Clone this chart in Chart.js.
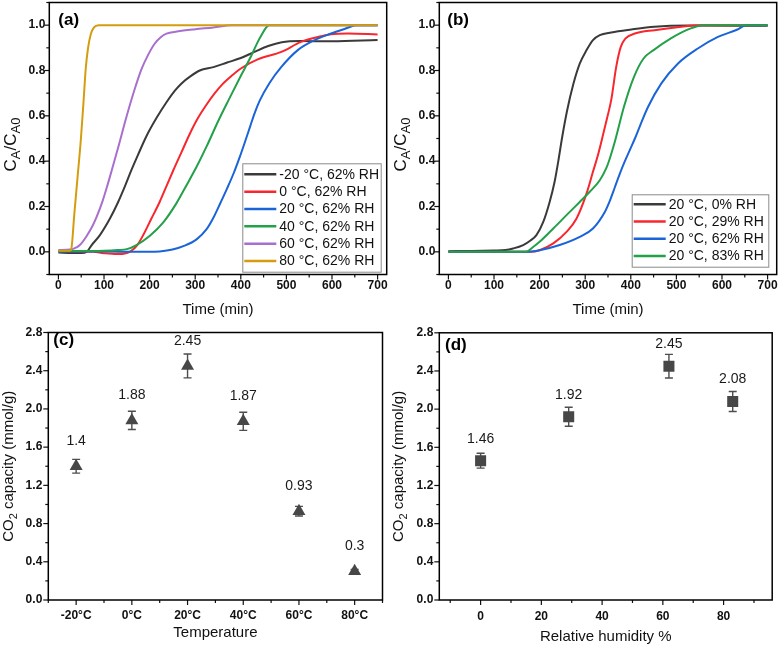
<!DOCTYPE html>
<html>
<head>
<meta charset="utf-8">
<title>CO2 breakthrough curves and capacity</title>
<script src="https://cdn.jsdelivr.net/npm/chart.js@4.4.1/dist/chart.umd.min.js"></script>
<style>
html,body{margin:0;padding:0;background:#fff;}
#fig{position:relative;width:780px;height:649px;overflow:hidden;background:#fff;}
#fig canvas{position:absolute;}
</style>
</head>
<body>
<div id="fig">
<canvas id="pa" width="390" height="325" style="left:0;top:0"></canvas>
<canvas id="pb" width="390" height="325" style="left:390px;top:0"></canvas>
<canvas id="pc" width="390" height="324" style="left:0;top:325px"></canvas>
<canvas id="pd" width="390" height="324" style="left:390px;top:325px"></canvas>
</div>
<script>
// ---------------- tick labels ----------------
const timeTicks  = [0, 100, 200, 300, 400, 500, 600, 700];
const ratioTicks = [0.0, 0.2, 0.4, 0.6, 0.8, 1.0];
const capTicks   = [0.0, 0.4, 0.8, 1.2, 1.6, 2.0, 2.4, 2.8];
const rhTicks    = [0, 20, 40, 60, 80];

// ---------------- panel (a): temperature series (62% RH) ----------------
const legendA = ['-20 °C, 62% RH', '0 °C, 62% RH', '20 °C, 62% RH', '40 °C, 62% RH', '60 °C, 62% RH', '80 °C, 62% RH'];
const colorsA = ['#3a3a3a', '#f7272d', '#1b64d8', '#23a048', '#a86fcf', '#d39d0e'];

const tM20 = [0, 30, 50, 62, 73, 91, 113, 131, 146, 160, 175, 193, 215, 237, 255, 270, 290, 310, 340, 370, 400, 430, 460, 490, 530, 600, 700];
const vM20 = [-0.003, -0.005, -0.005, 0.0, 0.03, 0.074, 0.147, 0.22, 0.29, 0.36, 0.43, 0.51, 0.59, 0.66, 0.71, 0.743, 0.775, 0.80, 0.815, 0.835, 0.855, 0.882, 0.908, 0.925, 0.93, 0.929, 0.935];

const tP0 = [0, 50, 77, 100, 128, 150, 160, 173, 186, 204, 222, 237, 252, 270, 288, 306, 325, 343, 360, 379, 401, 437, 489, 532, 576, 598, 635, 700];
const vP0 = [0.003, 0.002, 0.0, -0.006, -0.01, -0.005, 0.005, 0.03, 0.074, 0.147, 0.22, 0.29, 0.36, 0.44, 0.52, 0.59, 0.65, 0.70, 0.74, 0.775, 0.81, 0.849, 0.882, 0.926, 0.951, 0.96, 0.963, 0.959];

const tP20 = [0, 100, 200, 222, 250, 274, 303, 325, 339, 354, 370, 385, 398, 410, 420, 430, 441, 463, 489, 525, 562, 598, 630, 653, 700];
const vP20 = [0.002, 0.001, 0.0, 0.002, 0.01, 0.025, 0.055, 0.1, 0.147, 0.21, 0.28, 0.35, 0.42, 0.49, 0.55, 0.61, 0.665, 0.745, 0.816, 0.89, 0.934, 0.963, 0.985, 1.0, 1.0];

const tP40 = [0, 100, 130, 150, 171, 200, 230, 259, 281, 303, 325, 350, 372, 401, 423, 437, 448, 455, 462, 700];
const vP40 = [0.003, 0.005, 0.008, 0.012, 0.03, 0.07, 0.13, 0.215, 0.294, 0.375, 0.465, 0.575, 0.665, 0.78, 0.865, 0.925, 0.965, 0.988, 1.0, 1.0];

const tP60 = [0, 25, 35, 47, 62, 75, 84, 97, 107, 117, 133, 145, 157, 170, 182, 197, 211, 225, 237, 260, 300, 340, 380, 700];
const vP60 = [0.008, 0.01, 0.015, 0.03, 0.07, 0.115, 0.155, 0.225, 0.29, 0.36, 0.475, 0.565, 0.65, 0.735, 0.805, 0.87, 0.918, 0.948, 0.963, 0.972, 0.982, 0.99, 1.0, 1.0];

const tP80 = [0, 25, 28, 35, 42, 49, 55, 60, 65, 71, 78, 88, 700];
const vP80 = [0.005, 0.005, 0.01, 0.17, 0.33, 0.49, 0.66, 0.81, 0.9, 0.96, 0.99, 1.0, 1.0];

// ---------------- panel (b): humidity series (20 °C) ----------------
const legendB = ['20 °C, 0% RH', '20 °C, 29% RH', '20 °C, 62% RH', '20 °C, 83% RH'];
const colorsB = ['#3a3a3a', '#f7272d', '#1b64d8', '#23a048'];

const tH0 = [0, 50, 100, 125, 142, 164, 180, 193, 208, 222, 233, 241, 249, 260, 274, 288, 303, 317, 332, 357, 401, 452, 525, 700];
const vH0 = [0.003, 0.004, 0.006, 0.008, 0.015, 0.03, 0.05, 0.074, 0.132, 0.22, 0.31, 0.40, 0.50, 0.62, 0.74, 0.83, 0.89, 0.934, 0.956, 0.968, 0.981, 0.993, 0.998, 0.997];

const tH29 = [0, 100, 180, 200, 230, 259, 281, 303, 317, 328, 339, 348, 357, 368, 378, 388, 409, 452, 511, 550, 700];
const vH29 = [0.0, 0.0, 0.0, 0.007, 0.037, 0.088, 0.147, 0.258, 0.353, 0.427, 0.515, 0.59, 0.669, 0.816, 0.904, 0.941, 0.963, 0.978, 0.993, 1.0, 1.0];

const tH62 = [0, 100, 170, 200, 244, 288, 317, 343, 354, 365, 376, 387, 398, 409, 420, 438, 467, 503, 547, 591, 634, 653, 700];
const vH62 = [0.0, 0.0, 0.0, 0.007, 0.03, 0.066, 0.103, 0.176, 0.225, 0.285, 0.345, 0.40, 0.45, 0.50, 0.555, 0.64, 0.743, 0.83, 0.897, 0.948, 0.981, 1.0, 1.0];

const tH83 = [0, 100, 170, 185, 200, 230, 259, 288, 310, 332, 346, 354, 366, 385, 407, 428, 450, 487, 530, 560, 700];
const vH83 = [0.0, 0.0, 0.0, 0.02, 0.044, 0.103, 0.162, 0.22, 0.265, 0.316, 0.368, 0.412, 0.493, 0.64, 0.772, 0.853, 0.89, 0.941, 0.985, 1.0, 1.0];

// ---------------- panel (c): capacity vs temperature ----------------
const tempLabels = ['-20°C', '0°C', '20°C', '40°C', '60°C', '80°C'];
const capT = [1.4, 1.88, 2.45, 1.87, 0.93, 0.3];
const errT = [0.072, 0.095, 0.125, 0.095, 0.05, 0.02];

// ---------------- panel (d): capacity vs relative humidity ----------------
const rhVals = [0, 29, 62, 83];
const capH = [1.46, 1.92, 2.45, 2.08];
const errH = [0.078, 0.10, 0.124, 0.105];

// ================= helpers =================
const FONT = "'Liberation Sans', Arial, sans-serif";
Chart.defaults.font.family = FONT;
const pts = (t, v) => t.map((x, i) => ({x: x, y: v[i]}));

function fixedY(w) { return s => { s.width = w; s.paddingTop = 0; s.paddingBottom = 0; }; }
function fixedX(h) { return s => { s.height = h; s.paddingLeft = 0; s.paddingRight = 0; }; }
function setTicks(arr) { return s => { s.ticks = arr.map(v => ({value: v})); }; }

const tickFont = {family: FONT, size: 12, weight: 'bold'};

const panelCfg = {};

const panelPlugin = {
  id: 'panelDeco',
  beforeDatasetsDraw(chart) {
    const o = panelCfg[chart.canvas.id];
    if (!o || !o.errors) return;
    const ctx = chart.ctx, ys = chart.scales.y, meta = chart.getDatasetMeta(0);
    const data = chart.data.datasets[0].data;
    ctx.save();
    ctx.strokeStyle = '#4d4d4d'; ctx.lineWidth = 1.4;
    data.forEach((d, i) => {
      const val = (typeof d === 'object') ? d.y : d;
      const x = meta.data[i].x;
      const y1 = ys.getPixelForValue(val + o.errors[i]);
      const y2 = ys.getPixelForValue(val - o.errors[i]);
      ctx.beginPath();
      ctx.moveTo(x, y1); ctx.lineTo(x, y2);
      ctx.moveTo(x - 4, y1); ctx.lineTo(x + 4, y1);
      ctx.moveTo(x - 4, y2); ctx.lineTo(x + 4, y2);
      ctx.stroke();
    });
    ctx.restore();
  },
  afterDraw(chart) {
    const o = panelCfg[chart.canvas.id];
    if (!o) return;
    const ctx = chart.ctx, a = chart.chartArea, xs = chart.scales.x, ys = chart.scales.y;
    ctx.save();
    // ---- tick marks (major + minor, outward) ----
    ctx.strokeStyle = '#111'; ctx.lineWidth = 1.2;
    const marks = (scale, majors, horiz) => {
      const step = majors[1] - majors[0];
      const minors = [majors[0] - step / 2];
      majors.forEach(v => minors.push(v + step / 2));
      const draw = (v, len) => {
        const p = scale.getPixelForValue(v);
        if (horiz) {
          if (p < a.left - 0.6 || p > a.right + 0.6) return;
          ctx.beginPath(); ctx.moveTo(p, a.bottom); ctx.lineTo(p, a.bottom + len); ctx.stroke();
        } else {
          if (p < a.top - 0.6 || p > a.bottom + 0.6) return;
          ctx.beginPath(); ctx.moveTo(a.left, p); ctx.lineTo(a.left - len, p); ctx.stroke();
        }
      };
      majors.forEach(v => draw(v, 5));
      minors.forEach(v => draw(v, 3));
    };
    marks(xs, o.xMajor, true);
    marks(ys, o.yMajor, false);
    // ---- frame ----
    ctx.strokeStyle = '#000'; ctx.lineWidth = 1.5;
    ctx.strokeRect(a.left, a.top, a.right - a.left, a.bottom - a.top);

    // ---- data labels ----
    if (o.dataLabels) {
      const meta = chart.getDatasetMeta(0);
      const data = chart.data.datasets[0].data;
      ctx.fillStyle = '#1a1a1a';
      ctx.font = '14px ' + FONT;
      ctx.textAlign = 'center'; ctx.textBaseline = 'middle';
      data.forEach((d, i) => {
        const val = (typeof d === 'object') ? d.y : d;
        ctx.fillText(String(val), meta.data[i].x, meta.data[i].y - o.dataLabels.dy);
      });
    }
    // ---- legend box ----
    if (o.legend) {
      const L = o.legend;
      const bx = a.right - L.right - L.w, by = a.bottom - L.bottom - L.h;
      ctx.fillStyle = '#fff';
      ctx.fillRect(bx, by, L.w, L.h);
      ctx.strokeStyle = '#8a8a8a'; ctx.lineWidth = 1;
      ctx.strokeRect(bx + 0.5, by + 0.5, L.w, L.h);
      ctx.font = '14px ' + FONT;
      ctx.textAlign = 'left'; ctx.textBaseline = 'middle';
      chart.data.datasets.forEach((ds, i) => {
        const yy = by + L.first + i * L.row;
        ctx.strokeStyle = ds.borderColor; ctx.lineWidth = 2.5;
        ctx.beginPath(); ctx.moveTo(bx + 2, yy); ctx.lineTo(bx + 34, yy); ctx.stroke();
        ctx.fillStyle = '#111';
        ctx.fillText(ds.label, bx + 37, yy + 0.5);
      });
    }
    // ---- x axis title ----
    ctx.fillStyle = '#111';
    ctx.font = '15px ' + FONT;
    ctx.textAlign = 'center'; ctx.textBaseline = 'middle';
    ctx.fillText(o.xTitle, (a.left + a.right) / 2, a.bottom + o.xTitleDy);
    // ---- y axis title with subscripts ----
    const big = o.yTitleSize[0] + 'px ' + FONT, small = o.yTitleSize[1] + 'px ' + FONT;
    let total = 0;
    o.yTitle.forEach(p => { ctx.font = p[1] ? small : big; total += ctx.measureText(p[0]).width; });
    ctx.translate(o.yTitleX, (a.top + a.bottom) / 2 + o.yTitleDy);
    ctx.rotate(-Math.PI / 2);
    ctx.textAlign = 'left'; ctx.textBaseline = 'alphabetic';
    let cx = -total / 2;
    o.yTitle.forEach(p => {
      ctx.font = p[1] ? small : big;
      ctx.fillText(p[0], cx, p[1] ? o.yTitleSize[2] : 0);
      cx += ctx.measureText(p[0]).width;
    });
    ctx.setTransform(1, 0, 0, 1, 0, 0);
    // ---- panel letter ----
    ctx.font = 'bold 17px ' + FONT;
    ctx.textAlign = 'left'; ctx.textBaseline = 'middle';
    ctx.fillStyle = '#000';
    ctx.fillText(o.letter[0], a.left + o.letter[1], a.top + o.letter[2]);
    ctx.restore();
  }
};
Chart.register(panelPlugin);

function baseOptions(p) {
  return {
    responsive: false, animation: false, devicePixelRatio: 1, events: [],
    layout: {padding: {left: 0, top: p.padTop, right: p.padRight, bottom: 0}},
    plugins: {legend: {display: false}, tooltip: {enabled: false}},
    scales: {
      x: Object.assign({
        grid: {display: false, drawTicks: false}, border: {display: false},
        afterFit: fixedX(p.xH)
      }, p.x),
      y: {
        type: 'linear', min: p.yMin, max: p.yMax,
        grid: {display: false, drawTicks: false}, border: {display: false},
        ticks: {font: tickFont, color: '#111', padding: p.yPad, autoSkip: false,
                callback: v => Number(v).toFixed(1)},
        afterBuildTicks: setTicks(p.yTicks),
        afterFit: fixedY(p.yW)
      }
    }
  };
}

function lineSets(series, labels, colors) {
  const n = series.length;
  return series.map((s, i) => ({
    label: labels[i], data: pts(s[0], s[1]), borderColor: colors[i], backgroundColor: colors[i],
    borderWidth: 2, pointRadius: 0, fill: false, cubicInterpolationMode: 'monotone', order: n - 1 - i
  }));
}

const CA_TITLE = [['C', 0], ['A', 1], ['/C', 0], ['A0', 1]];
const CO2_TITLE = [['CO', 0], ['2', 1], [' capacity (mmol/g)', 0]];

panelCfg.pa = {xMajor: timeTicks, yMajor: ratioTicks, xTitle: 'Time (min)', xTitleDy: 35.5,
  yTitle: CA_TITLE, yTitleSize: [17, 13, 4], yTitleX: 16, yTitleDy: 6, letter: ['(a)', 9, 17.5],
  legend: {right: 6, bottom: 2.8, w: 138.4, h: 108.4, first: 11, row: 17.35}};
panelCfg.pb = {xMajor: timeTicks, yMajor: ratioTicks, xTitle: 'Time (min)', xTitleDy: 35.5,
  yTitle: CA_TITLE, yTitleSize: [17, 13, 4], yTitleX: 16, yTitleDy: 6, letter: ['(b)', 8, 17.5],
  legend: {right: 8.4, bottom: 7.8, w: 136.6, h: 72.4, first: 10, row: 17.2}};
panelCfg.pc = {xMajor: [0, 1, 2, 3, 4, 5], yMajor: capTicks, xTitle: 'Temperature', xTitleDy: 33,
  yTitle: CO2_TITLE, yTitleSize: [15, 11, 4], yTitleX: 12.5, yTitleDy: 0, letter: ['(c)', 5, 7.7],
  errors: errT, dataLabels: {dy: 25}};
panelCfg.pd = {xMajor: rhTicks, yMajor: capTicks, xTitle: 'Relative humidity %', xTitleDy: 36.5,
  yTitle: CO2_TITLE, yTitleSize: [15, 11, 4], yTitleX: 12.5, yTitleDy: 0, letter: ['(d)', 5.7, 12.7],
  errors: errH, dataLabels: {dy: 22}};

const timeX = {type: 'linear', min: -20, max: 720, afterBuildTicks: setTicks(timeTicks),
  ticks: {font: tickFont, color: '#111', padding: 4, autoSkip: false, maxRotation: 0, callback: v => String(v)}};

// ---------------- (a) ----------------
new Chart(document.getElementById('pa'), {
  type: 'line',
  data: {datasets: lineSets([[tM20, vM20], [tP0, vP0], [tP20, vP20], [tP40, vP40], [tP60, vP60], [tP80, vP80]], legendA, colorsA)},
  options: baseOptions({padTop: 2.5, padRight: 3.3, xH: 50.5, yW: 49.3, yPad: 4,
    yMin: -0.1, yMax: 1.1, yTicks: ratioTicks, x: timeX})
});

// ---------------- (b) ----------------
new Chart(document.getElementById('pb'), {
  type: 'line',
  data: {datasets: lineSets([[tH0, vH0], [tH29, vH29], [tH62, vH62], [tH83, vH83]], legendB, colorsB)},
  options: baseOptions({padTop: 2.5, padRight: 3.3, xH: 50.5, yW: 49.3, yPad: 4,
    yMin: -0.1, yMax: 1.1, yTicks: ratioTicks, x: timeX})
});

// ---------------- (c) ----------------
new Chart(document.getElementById('pc'), {
  type: 'line',
  data: {labels: tempLabels, datasets: [{
    label: 'CO2 capacity', data: capT, showLine: false, pointStyle: 'triangle', pointRadius: 7.5,
    backgroundColor: '#474747', borderColor: '#474747', borderWidth: 0
  }]},
  options: baseOptions({padTop: 4.3, padRight: 7.3, xH: 49, yW: 48.3, yPad: 6,
    yMin: 0, yMax: 2.8, yTicks: capTicks,
    x: {type: 'category', offset: true, ticks: {font: tickFont, color: '#111', padding: 8, autoSkip: false, maxRotation: 0}}})
});

// ---------------- (d) ----------------
new Chart(document.getElementById('pd'), {
  type: 'line',
  data: {datasets: [{
    label: 'CO2 capacity', data: pts(rhVals, capH), showLine: false, pointStyle: 'rect', pointRadius: 7.8,
    backgroundColor: '#474747', borderColor: '#474747', borderWidth: 0
  }]},
  options: baseOptions({padTop: 4.3, padRight: 7.3, xH: 49, yW: 49.3, yPad: 6,
    yMin: 0, yMax: 2.8, yTicks: capTicks,
    x: {type: 'linear', min: -13.6, max: 96, afterBuildTicks: setTicks(rhTicks),
        ticks: {font: tickFont, color: '#111', padding: 9, autoSkip: false, maxRotation: 0, callback: v => String(v)}}})
});
</script>
</body>
</html>
